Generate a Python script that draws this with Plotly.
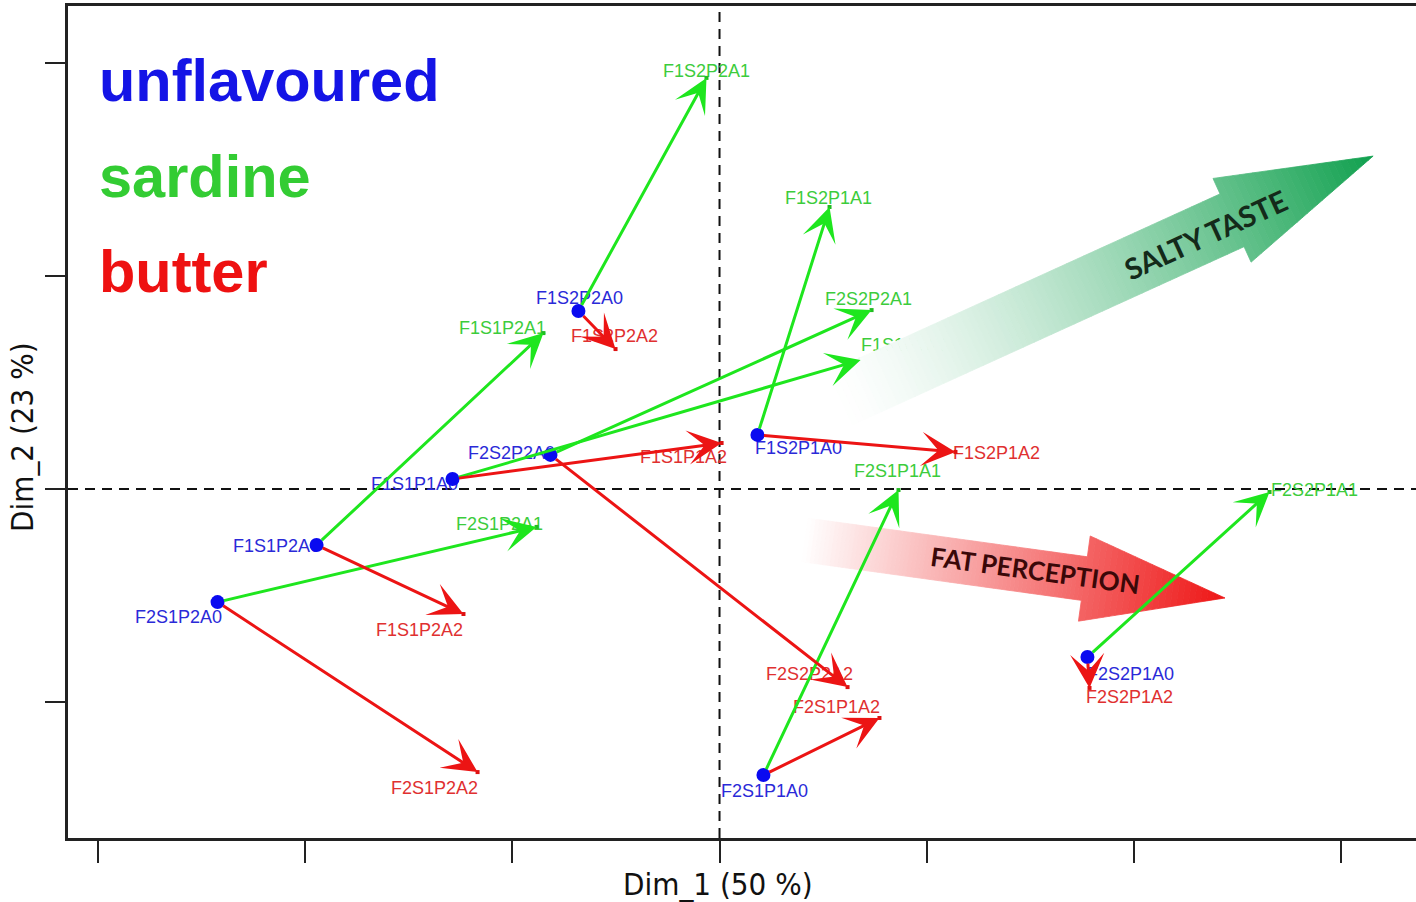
import math
import plotly.graph_objects as go

# ---------------- data ----------------
samples = ["F1S2P2", "F2S2P2", "F1S1P1", "F1S1P2", "F2S1P2", "F1S2P1", "F2S1P1", "F2S2P1"]

# unflavoured (A0)
a0_x = [-0.681, -0.816, -1.289, -1.945, -2.423, 0.183, 0.212, 1.776]
a0_y = [0.836, 0.160, 0.047, -0.263, -0.531, 0.254, -1.343, -0.789]
# sardine (A1)
a1_x = [-0.063, 0.734, 0.681, -0.850, -0.883, 0.531, 0.864, 2.655]
a1_y = [1.930, 0.840, 0.606, 0.732, -0.178, 1.324, -0.005, -0.014]
# butter (A2)
a2_x = [-0.502, 0.618, 0.010, -1.236, -1.168, 1.139, 0.772, 1.786]
a2_y = [0.657, -0.930, 0.216, -0.587, -1.329, 0.174, -1.075, -0.934]

x_ticks = [-3, -2, -1, 0, 1, 2, 3]
y_ticks = [-1, 0, 1, 2]

x_title = "Dim_1 (50 %)"
y_title = "Dim_2 (23 %)"
legend_names = ["unflavoured", "sardine", "butter"]
salty_text = "SALTY TASTE"
fat_text = "FAT PERCEPTION"

# ---------------- style / layout ----------------
W, H = 1416, 902
M = dict(l=68, r=0, t=6, b=64)
X_RANGE = [-3.145, 3.362]
Y_RANGE = [-1.6385, 2.2676]
PW = W - M["l"] - M["r"]
PH = H - M["t"] - M["b"]
SX = PW / (X_RANGE[1] - X_RANGE[0])
SY = PH / (Y_RANGE[1] - Y_RANGE[0])

BLUE = "#0a0af0"
BLUE_TXT = "#2a2ad8"
GREEN_ARR = "#1ee61e"
GREEN_TXT = "#3ccc3c"
RED_ARR = "#ec1414"
RED_TXT = "#e03030"
LEG_COLORS = ["#1414e6", "#33cc33", "#ee1111"]

# label offsets in pixels (dx right, dy up)
off_a0 = [(1, 11), (-39, 0), (-38, -7), (-40, -2), (-39, -16), (41, -15), (1, -17), (43, -18)]
off_a1 = [(0, 5), (-3, 10), (44, 13), (-41, 4), (-37, 1), (-1, 7), (-1, 18), (45, 0)]
off_a2 = [(-1, 12), (-38, 12), (-38, -16), (-44, -17), (-43, -17), (41, -3), (-43, 9), (40, -11)]

LABEL_FONT = "Liberation Sans, Arial, sans-serif"


def shifted(xs, ys, offs):
    return ([x + dx / SX for x, (dx, dy) in zip(xs, offs)],
            [y + dy / SY for y, (dx, dy) in zip(ys, offs)])


def grad_arrow(tail, tip, shaft_hw, head_hw, head_len, rgb, power, layer,
               n_shaft=70, n_head=24):
    tx, ty = tail[0] * SX, tail[1] * SY
    px, py = tip[0] * SX, tip[1] * SY
    L = math.hypot(px - tx, py - ty)
    ux, uy = (px - tx) / L, (py - ty) / L
    nx, ny = -uy, ux

    def pt(s, w):
        return ((tx + ux * s + nx * w) / SX, (ty + uy * s + ny * w) / SY)

    def col(t):
        a = max(0.0, min(1.0, t)) ** power
        r = round(255 * (1 - a) + rgb[0] * a)
        g = round(255 * (1 - a) + rgb[1] * a)
        b = round(255 * (1 - a) + rgb[2] * a)
        return f"rgb({r},{g},{b})"

    def path(pts):
        return "M " + " L ".join(f"{x:.5f},{y:.5f}" for x, y in pts) + " Z"

    shapes = []
    shaft_len = L - head_len
    for i in range(n_shaft):
        s0 = shaft_len * i / n_shaft
        s1 = shaft_len * (i + 1) / n_shaft
        c = col((s0 + s1) / 2 / L)
        pts = [pt(s0, -shaft_hw), pt(s1, -shaft_hw), pt(s1, shaft_hw), pt(s0, shaft_hw)]
        shapes.append(dict(type="path", path=path(pts), xref="x", yref="y",
                           fillcolor=c, line=dict(color=c, width=0.8), layer=layer))
    for j in range(n_head):
        s0 = shaft_len + head_len * j / n_head
        s1 = shaft_len + head_len * (j + 1) / n_head
        w0 = head_hw * (1 - j / n_head)
        w1 = head_hw * (1 - (j + 1) / n_head)
        c = col((s0 + s1) / 2 / L)
        pts = [pt(s0, -w0), pt(s1, -w1), pt(s1, w1), pt(s0, w0)]
        shapes.append(dict(type="path", path=path(pts), xref="x", yref="y",
                           fillcolor=c, line=dict(color=c, width=0.8), layer=layer))
    return shapes


fig = go.Figure()

# labels (drawn first so that the salty arrow can overlay them)
lx, ly = shifted(a0_x, a0_y, off_a0)
fig.add_trace(go.Scatter(x=lx, y=ly, mode="text", text=[s + "A0" for s in samples],
                         textposition="middle center",
                         textfont=dict(family=LABEL_FONT, size=18, color=BLUE_TXT),
                         hoverinfo="skip", showlegend=False))
lx, ly = shifted(a1_x, a1_y, off_a1)
fig.add_trace(go.Scatter(x=lx, y=ly, mode="text", text=[s + "A1" for s in samples],
                         textposition="middle center",
                         textfont=dict(family=LABEL_FONT, size=18, color=GREEN_TXT),
                         hoverinfo="skip", showlegend=False))
lx, ly = shifted(a2_x, a2_y, off_a2)
fig.add_trace(go.Scatter(x=lx, y=ly, mode="text", text=[s + "A2" for s in samples],
                         textposition="middle center",
                         textfont=dict(family=LABEL_FONT, size=18, color=RED_TXT),
                         hoverinfo="skip", showlegend=False))

# small endpoint dots
fig.add_trace(go.Scatter(x=a1_x, y=a1_y, mode="markers",
                         marker=dict(size=4, color="#22bb22", symbol="square"),
                         hoverinfo="skip", showlegend=False))
fig.add_trace(go.Scatter(x=a2_x, y=a2_y, mode="markers",
                         marker=dict(size=4, color="#dd1111", symbol="square"),
                         hoverinfo="skip", showlegend=False))
# unflavoured points
fig.add_trace(go.Scatter(x=a0_x, y=a0_y, mode="markers",
                         marker=dict(size=14, color=BLUE),
                         hoverinfo="skip", showlegend=False))

annotations = []
# arrows: sardine (green) and butter (red)
for xs, ys, color in ((a1_x, a1_y, GREEN_ARR), (a2_x, a2_y, RED_ARR)):
    for i in range(len(samples)):
        annotations.append(dict(
            x=xs[i], y=ys[i], ax=a0_x[i], ay=a0_y[i], xref="x", yref="y",
            axref="x", ayref="y", text="", showarrow=True, arrowhead=3,
            arrowsize=1.9, arrowwidth=3, arrowcolor=color, standoff=0,
            startstandoff=5))

# legend words
leg_y = [0.9099, 0.7945, 0.6803]
for name, c, yy in zip(legend_names, LEG_COLORS, leg_y):
    annotations.append(dict(x=(97 - M["l"]) / PW, y=yy, xref="paper", yref="paper",
                            text=f"<b>{name}</b>", showarrow=False, xanchor="left",
                            yanchor="middle",
                            font=dict(family="Liberation Sans, Arial, sans-serif",
                                      size=59.5, color=c)))

# axis titles
annotations.append(dict(x=(718 - M["l"]) / PW, y=(838 - 884) / PH, xref="paper", yref="paper",
                        text=x_title, showarrow=False, xanchor="center", yanchor="middle",
                        font=dict(family="DejaVu Sans Condensed, DejaVu Sans, sans-serif",
                                  size=31, color="#111111")))
annotations.append(dict(x=(22 - M["l"]) / PW, y=(838 - 437) / PH, xref="paper", yref="paper",
                        text=y_title, showarrow=False, xanchor="center", yanchor="middle",
                        textangle=-90,
                        font=dict(family="DejaVu Sans Condensed, DejaVu Sans, sans-serif",
                                  size=31, color="#111111")))

# gradient arrow texts
annotations.append(dict(x=2.3436, y=1.197, xref="x", yref="y", text=f"<b>{salty_text}</b>",
                        showarrow=False, textangle=-24.5,
                        font=dict(family="Lato, Open Sans, sans-serif", size=29,
                                  color="#142a1a")))
annotations.append(dict(x=1.523, y=-0.380, xref="x", yref="y", text=f"<b>{fat_text}</b>",
                        showarrow=False, textangle=7.8,
                        font=dict(family="Lato, Open Sans, sans-serif", size=26,
                                  color="#3a0808")))

shapes = []
shapes += grad_arrow((0.4127, -0.2394), (2.440, -0.5117), 22, 43, 142,
                     (238, 22, 22), 1.0, "below")
shapes += [
    dict(type="line", xref="x", yref="paper", x0=0, x1=0, y0=0, y1=1,
         line=dict(color="#111111", width=2, dash="10px,7px"), layer="below"),
    dict(type="line", xref="paper", yref="y", x0=0, x1=1, y0=0, y1=0,
         line=dict(color="#111111", width=2, dash="10px,7px"), layer="below"),
]
shapes += grad_arrow((0.5575, 0.413), (3.155, 1.563), 29, 46, 155,
                     (16, 160, 78), 1.4, "above")

fig.update_layout(
    width=W, height=H, autosize=False,
    margin=M,
    paper_bgcolor="white", plot_bgcolor="white",
    showlegend=False,
    xaxis=dict(range=X_RANGE, tickvals=x_ticks, showticklabels=False, ticks="outside",
               ticklen=22, tickwidth=1.5, tickcolor="#222222", showgrid=False,
               zeroline=False, showline=True, linewidth=2.5, linecolor="#222222",
               mirror=True, fixedrange=True),
    yaxis=dict(range=Y_RANGE, tickvals=y_ticks, showticklabels=False, ticks="outside",
               ticklen=20, tickwidth=1.5, tickcolor="#222222", showgrid=False,
               zeroline=False, showline=True, linewidth=2.5, linecolor="#222222",
               mirror=False, fixedrange=True),
    annotations=annotations,
    shapes=shapes,
)

fig.write_html("out.html")
